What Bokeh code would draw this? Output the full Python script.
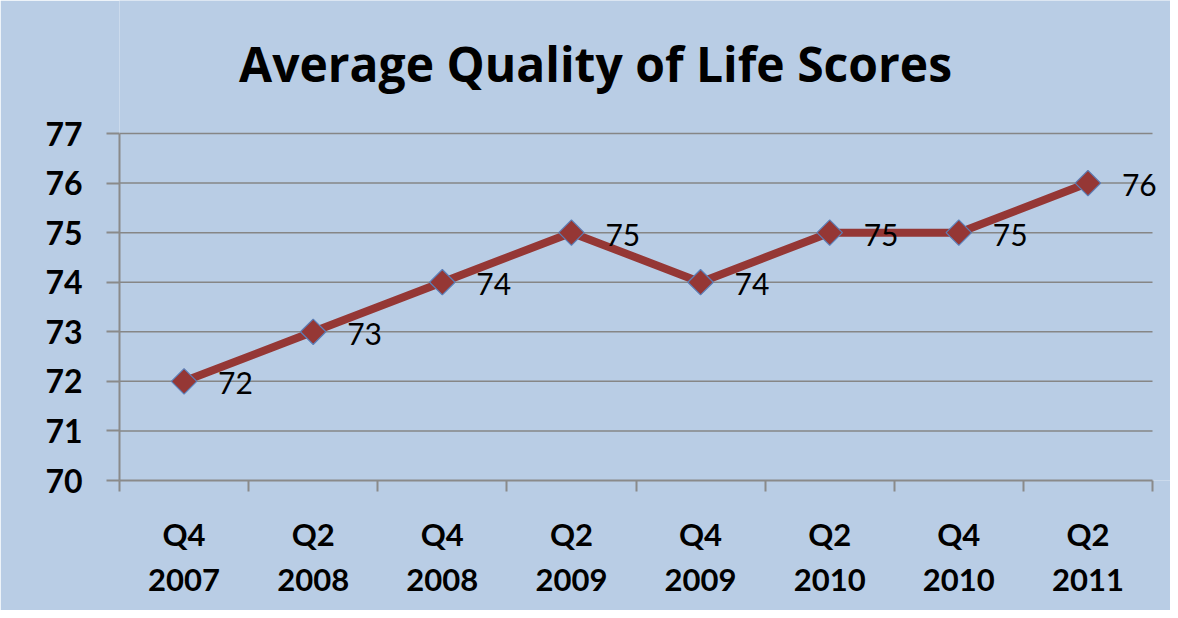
import math
from bokeh.plotting import figure
from bokeh.models import Range1d, FixedTicker, Label, ColumnDataSource, LabelSet
from bokeh.core.properties import value
from bokeh.embed import file_html
from bokeh.resources import INLINE

quarters = ["Q4\n2007", "Q2\n2008", "Q4\n2008", "Q2\n2009", "Q4\n2009", "Q2\n2010", "Q4\n2010", "Q2\n2011"]
scores = [72, 73, 74, 75, 74, 75, 75, 76]
y_ticks = [70, 71, 72, 73, 74, 75, 76, 77]
title_text = "Average Quality of Life Scores"

BG = "#b9cde5"
LINE = "#953735"
AXC = "#8a8a8a"
FONT = "Lato"

n = len(quarters)
xs = [i + 0.5 for i in range(n)]
src = ColumnDataSource(dict(x=xs, y=scores, lab=[str(s) for s in scores]))

W, H = 1170, 610
LEFT, RIGHT_AXIS, BOTTOM = 119, 1152, 480
PX_X = (RIGHT_AXIS - LEFT) / n
PX_Y = (BOTTOM - 133) / (max(y_ticks) - min(y_ticks))

p = figure(width=W, height=H, output_backend="svg", toolbar_location=None,
           x_range=Range1d(0, (W - LEFT) / PX_X),
           y_range=Range1d(min(y_ticks), min(y_ticks) + BOTTOM / PX_Y),
           min_border_left=LEFT, min_border_right=0, min_border_top=0,
           min_border_bottom=H - BOTTOM)
p.background_fill_color = BG
p.border_fill_color = BG
p.outline_line_color = None

# x axis
xa = p.xaxis[0]
xa.bounds = (0, n)
xa.ticker = FixedTicker(ticks=xs, minor_ticks=list(range(n + 1)))
xa.major_label_overrides = {x: q for x, q in zip(xs, quarters)}
xa.major_tick_out = 0
xa.major_tick_in = 0
xa.minor_tick_out = 11
xa.minor_tick_in = 0
xa.minor_tick_line_color = AXC
xa.minor_tick_line_width = 2
xa.axis_line_color = AXC
xa.axis_line_width = 2
xa.major_label_standoff = 23
xa.major_label_text_font = FONT
xa.major_label_text_font_style = "bold"
xa.major_label_text_font_size = "31px"
xa.major_label_text_color = "black"

# y axis
ya = p.yaxis[0]
ya.bounds = (min(y_ticks), max(y_ticks))
ya.ticker = FixedTicker(ticks=y_ticks)
ya.major_tick_out = 13
ya.major_tick_in = 0
ya.minor_tick_line_color = None
ya.major_tick_line_color = AXC
ya.major_tick_line_width = 2
ya.axis_line_color = AXC
ya.axis_line_width = 2
ya.major_label_standoff = 24
ya.major_label_text_font = FONT
ya.major_label_text_font_style = "bold"
ya.major_label_text_font_size = "32px"
ya.major_label_text_color = "black"

p.xgrid.grid_line_color = None
p.ygrid.grid_line_color = None
gy = y_ticks[1:]
p.segment(x0=[0] * len(gy), y0=gy, x1=[n] * len(gy), y1=gy, line_color="#868686", line_width=1.5)

p.line("x", "y", source=src, line_color=LINE, line_width=8)
p.scatter("x", "y", source=src, marker="square", angle=math.pi / 4, size=18, fill_color=LINE,
          line_color="#5b7fb8", line_width=1.2)
labels = LabelSet(x="x", y="y", text="lab", source=src, x_offset=34, y_offset=-2,
                  text_font=value(FONT), text_font_size="30px", text_color="black",
                  text_align="left", text_baseline="middle")
p.add_layout(labels)

title = Label(x=(595 - LEFT) / PX_X, y=min(y_ticks) + (BOTTOM - 63) / PX_Y, text=title_text,
              text_font="Open Sans", text_font_style="bold", text_font_size="48px",
              text_color="black", text_align="center", text_baseline="middle")
p.add_layout(title)

open("out.html", "w").write(file_html(p, INLINE))
